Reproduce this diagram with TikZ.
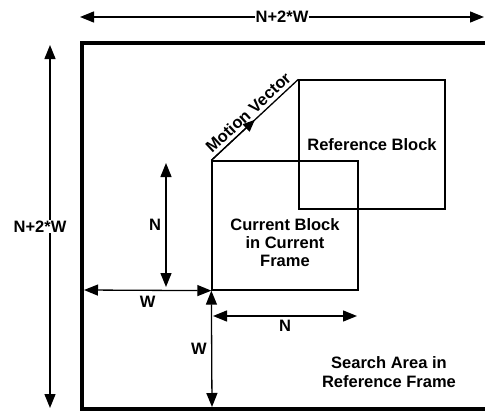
\documentclass[tikz,border=0pt]{standalone}
\usepackage{fontspec}
\setmainfont{Liberation Sans}
\usetikzlibrary{positioning, arrows.meta, calc}
\tikzset{
  every node/.style={font=\bfseries\fontsize{16.5}{18}\selectfont},
  arr/.style={{Triangle[length=14pt,width=11pt]}-{Triangle[length=14pt,width=11pt]}, line width=1.3pt},
  arrs/.style={-{Triangle[length=12pt,width=10pt]}, line width=1.3pt},
  blk/.style={draw, line width=1.3pt, inner sep=0pt, minimum width=146pt, minimum height=129pt},
  lbl/.style={fill=white, inner sep=1pt, align=center},
  frm/.style={line width=4pt},
}
\begin{document}
\begin{tikzpicture}[x=1pt, y=-1pt]
  \useasboundingbox (0,0) rectangle (485,415);
  \coordinate (ftr) at (486,43);
  \coordinate (ftl) at (82,43);
  \coordinate (fbl) at (82,409);
  \coordinate (fbr) at (486,409);
  \draw[frm] (ftr) -- (ftl) -- (fbl) -- (fbr);
  \coordinate (topL) at (80,17);
  \coordinate (topR) at (484,17);
  \coordinate (sideT) at (50,45);
  \coordinate (sideB) at (50,408);
  \draw[arr] (topL) -- node[lbl] (wtop) {N+2*W} (topR);
  \draw[arr] (sideT) -- node[lbl, xshift=-10pt] (wside) {N+2*W} (sideB);
  \node[blk] (cur) at (285,225.5) {};
  \node[blk] (ref) at (372,144.5) {Reference Block};
  \node[align=center] (curtxt) at ([yshift=-17pt]cur.center) {Current Block\\in Current\\Frame};
  \draw[line width=1.3pt] (cur.north west) -- node[above=0pt, sloped] (mvtxt) {Motion Vector} (ref.north west);
  \draw[arrs] (cur.north west) -- ($(cur.north west)!0.5!(ref.north west)$);
  \coordinate (wl) at (84,290);
  \draw[arr] (wl) -- node[below=2pt] (wh) {W} (cur.south west);
  \coordinate (wb) at (212,407);
  \draw[arr] (cur.south west) -- node[left=1pt] (wv) {W} (wb);
  \coordinate (nt) at (166,163);
  \coordinate (nb) at (166,287);
  \draw[arr] (nt) -- node[left=1pt] (nv) {N} (nb);
  \coordinate (nl) at (213,316);
  \coordinate (nr) at (357,316);
  \draw[arr] (nl) -- node[below=0pt] (nh) {N} (nr);
  \node[align=center] (search) at (389,372) {Search Area in\\[1.5pt]Reference Frame};
\end{tikzpicture}
\end{document}
